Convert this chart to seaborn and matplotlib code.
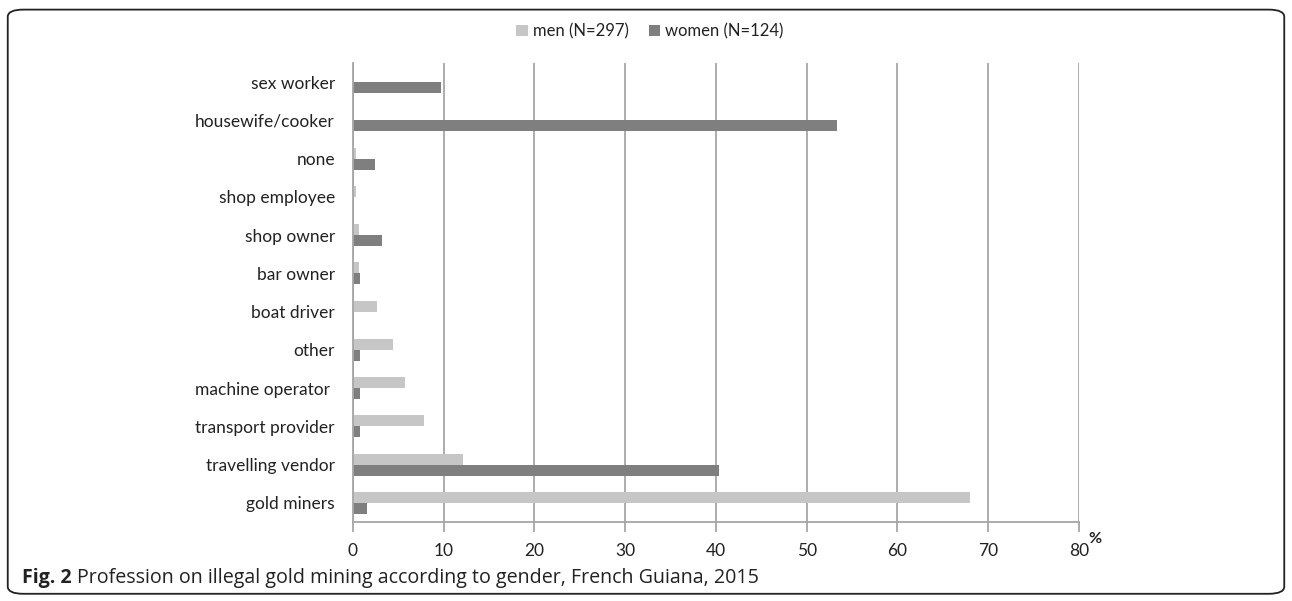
import pandas as pd
import matplotlib.pyplot as plt
import seaborn as sns
from matplotlib.patches import FancyBboxPatch

professions = ["sex worker", "housewife/cooker", "none", "shop employee", "shop owner",
               "bar owner", "boat driver", "other", "machine operator ",
               "transport provider", "travelling vendor", "gold miners"]
men = [0, 0, 0.35, 0.35, 0.7, 0.7, 2.7, 4.4, 5.7, 7.8, 12.1, 68.0]
women = [9.7, 53.3, 2.4, 0, 3.2, 0.8, 0, 0.8, 0.8, 0.8, 40.3, 1.6]
groups = ["men (N=297)", "women (N=124)"]
xticks = [0, 10, 20, 30, 40, 50, 60, 70, 80]

df = pd.DataFrame({
    "profession": professions * 2,
    "pct": men + women,
    "group": [groups[0]] * len(men) + [groups[1]] * len(women),
})

sns.set_style("white")
plt.rcParams["font.family"] = ["Lato", "DejaVu Sans"]

fig = plt.figure(figsize=(12.92, 6.01), dpi=100)
ax = fig.add_axes([0.2732, 0.1314, 0.5619, 0.7638])

sns.barplot(data=df, x="pct", y="profession", hue="group", order=professions,
            hue_order=groups, palette=["#c6c6c6", "#7f7f7f"], width=0.58,
            edgecolor="none", ax=ax, legend=True)

ax.set_xlim(0, 80)
ax.set_xticks(xticks)
ax.set_xlabel("")
ax.set_ylabel("")
ax.grid(axis="x", color="#a6a6a6", linewidth=1.3)
ax.set_axisbelow(True)
for s in ["top", "right"]:
    ax.spines[s].set_visible(False)
for s in ["left", "bottom"]:
    ax.spines[s].set_color("#a6a6a6")
    ax.spines[s].set_linewidth(1.3)
ax.tick_params(axis="x", length=7, width=1.3, color="#a6a6a6", labelsize=12.5,
               labelcolor="#222222", pad=8, direction="out", bottom=True)
ax.tick_params(axis="y", length=0, labelsize=12.5, labelcolor="#222222", pad=13)
ax.text(1.0135, -0.022, "%", transform=ax.transAxes, fontsize=11.5, fontweight="bold",
        color="#222222", ha="left", va="top")

h, l = ax.get_legend_handles_labels()
ax.get_legend().remove()
fig.legend(h, l, loc="center", bbox_to_anchor=(0.503, 0.948), ncol=2, frameon=False,
           fontsize=12, handlelength=0.7, handleheight=0.7, handletextpad=0.3,
           columnspacing=1.2, labelcolor="#222222")

fig.patches.append(FancyBboxPatch((0.006, 0.012), 0.988, 0.972,
                                  boxstyle="round,pad=0,rounding_size=0.012",
                                  transform=fig.transFigure, fill=False,
                                  edgecolor="#222222", linewidth=1.3))

# caption: bold figure number then plain text right after it
t1 = fig.text(0.017, 0.03, "Fig. 2 ", fontsize=14.1, fontweight="bold", family="Open Sans",
              color="#222222", va="baseline")
fig.canvas.draw()
bb = t1.get_window_extent(renderer=fig.canvas.get_renderer())
fig.text(bb.x1 / fig.bbox.width, 0.03,
         "Profession on illegal gold mining according to gender, French Guiana, 2015",
         fontsize=14.1, family="Open Sans", color="#222222", va="baseline")

fig.savefig("out.png", dpi=100)
